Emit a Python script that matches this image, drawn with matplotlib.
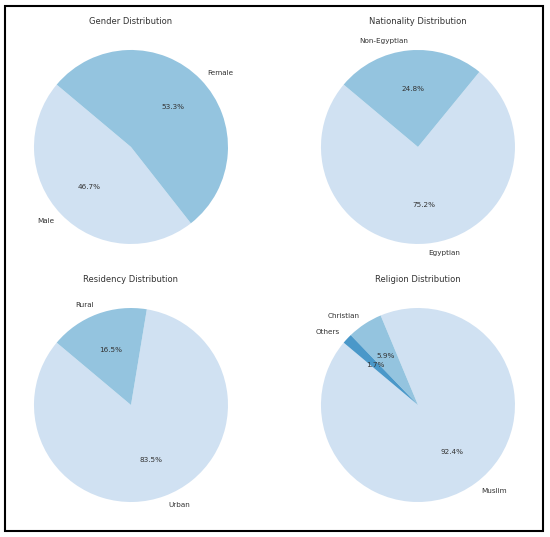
import matplotlib.pyplot as plt
from matplotlib.patches import Rectangle

gender_labels = ["Male", "Female"]
gender_values = [46.7, 53.3]
nationality_labels = ["Egyptian", "Non-Egyptian"]
nationality_values = [75.2, 24.8]
residency_labels = ["Urban", "Rural"]
residency_values = [83.5, 16.5]
religion_labels = ["Muslim", "Christian", "Others"]
religion_values = [92.4, 5.9, 1.7]

colors = ["#d0e1f2", "#94c4df", "#4a98c9"]
text_color = "#333333"

fig = plt.figure(figsize=(5.5, 5.37), dpi=100)

# axes positions: [left, bottom, width, height]
positions = [
    [0.0177, 0.5005, 0.4409, 0.4516],
    [0.5395, 0.5005, 0.4409, 0.4516],
    [0.0177, 0.0200, 0.4409, 0.4516],
    [0.5395, 0.0200, 0.4409, 0.4516],
]
panels = [
    ("Gender Distribution", gender_labels, gender_values),
    ("Nationality Distribution", nationality_labels, nationality_values),
    ("Residency Distribution", residency_labels, residency_values),
    ("Religion Distribution", religion_labels, religion_values),
]

for pos, (title, labels, values) in zip(positions, panels):
    ax = fig.add_axes(pos)
    wedges, texts, autotexts = ax.pie(
        values, labels=labels, autopct="%1.1f%%", startangle=140,
        colors=colors[:len(values)],
        textprops={"fontsize": 5.2, "color": text_color},
    )
    ax.set_title(title, fontsize=6, color=text_color, pad=1.5)
    ax.set_aspect("equal")

# black frame around the whole figure
fig.patches.append(Rectangle((5 / 550, 6 / 537), 538 / 550, 525 / 537,
                             transform=fig.transFigure, fill=False,
                             edgecolor="black", linewidth=1.5))

fig.savefig("out.png", dpi=100)
